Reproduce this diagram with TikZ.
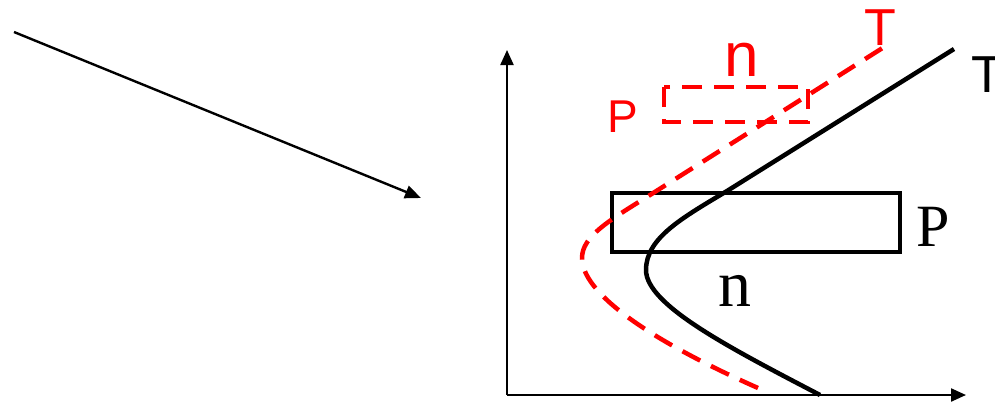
\documentclass[tikz,border=0pt]{standalone}
\usepackage{fontspec}
\setmainfont{Liberation Serif}
\newfontfamily\sanslab{Liberation Sans}
\definecolor{bandred}{RGB}{255,0,0}
\usetikzlibrary{arrows.meta,positioning}
\tikzset{
    axis/.style={line width=2.2pt, -{Triangle[length=15pt,width=13pt]}},
    band/.style={line width=4.5pt},
    shifted/.style={bandred, line width=4.5pt, dash pattern=on 20pt off 12pt},
    serlab/.style={inner sep=0pt, font=\fontsize{62}{62}\selectfont},
    sanlab/.style={inner sep=0pt, font=\sanslab\fontsize{52}{52}\selectfont}
}
\begin{document}
\begin{tikzpicture}[x=1pt, y=-1pt]
    \useasboundingbox (0,0) rectangle (995,402);
    % free arrow on the left
    \coordinate (arrowstart) at (14,32);
    \coordinate (arrowend) at (421,198);
    \draw[line width=2.4pt, -{Triangle[length=16pt,width=13pt]}] (arrowstart) -- (arrowend);
    % axes
    \coordinate (origin) at (507,395);
    \coordinate (ytop) at (507,50);
    \coordinate (xend) at (966,395);
    \draw[axis] (origin) -- (ytop);
    \draw[axis] (origin) -- (xend);
    % black band and curve
    \draw[band] (612,193) rectangle (900,252);
    \draw[band] (820,395) .. controls (730,348) and (646,305) .. (646,270)
        .. controls (646,238) and (682,218) .. (727,191) -- (954,49);
    \node[sanlab] (blackT) at (987,75) {T};
    \node[serlab, font=\fontsize{60}{60}\selectfont] (blackP) at (933,227) {P};
    \node[serlab, font=\fontsize{66}{66}\selectfont] (blackn) at (735,291) {n};
    % red shifted band and curve
    \draw[shifted] (664,87) rectangle (808,122);
    \draw[shifted] (758,388) .. controls (645,338) and (582,292) .. (582,258)
        .. controls (582,236) and (610,220) .. (650,195) -- (892,42);
    \node[sanlab, bandred] (redT) at (880,28) {T};
    \node[sanlab, bandred, font=\sanslab\fontsize{62}{62}\selectfont] (redn) at (742,60) {n};
    \node[sanlab, bandred, font=\sanslab\fontsize{46}{46}\selectfont] (redP) at (623,117) {P};
\end{tikzpicture}
\end{document}
